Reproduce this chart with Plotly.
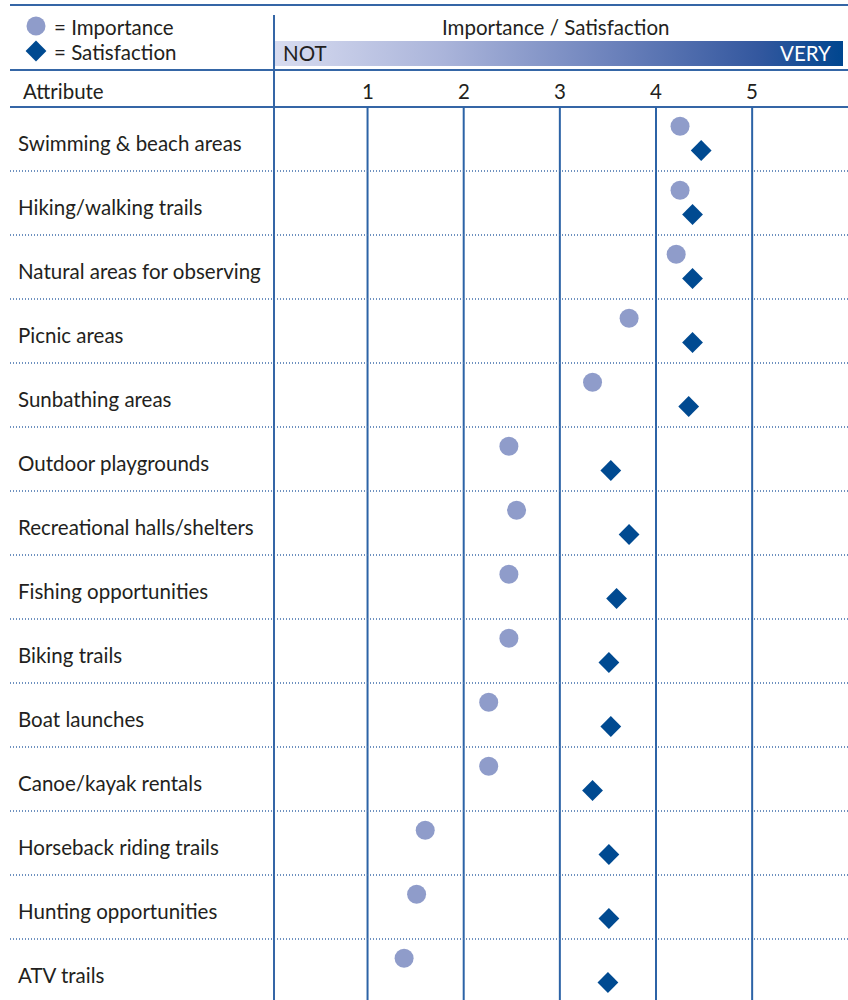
import plotly.graph_objects as go

attributes = [
    "Swimming & beach areas",
    "Hiking/walking trails",
    "Natural areas for observing",
    "Picnic areas",
    "Sunbathing areas",
    "Outdoor playgrounds",
    "Recreational halls/shelters",
    "Fishing opportunities",
    "Biking trails",
    "Boat launches",
    "Canoe/kayak rentals",
    "Horseback riding trails",
    "Hunting opportunities",
    "ATV trails",
]
importance = [4.25, 4.25, 4.21, 3.72, 3.34, 2.47, 2.55, 2.47, 2.47, 2.26, 2.26, 1.60, 1.51, 1.38]
satisfaction = [4.47, 4.38, 4.38, 4.38, 4.34, 3.53, 3.72, 3.59, 3.51, 3.53, 3.34, 3.51, 3.51, 3.50]
tick_values = [1, 2, 3, 4, 5]
tick_labels = ["1", "2", "3", "4", "5"]

W, H = 848, 1000
PX2 = 463.7          # pixel of value 2
STEP = 96.15         # pixels per unit
ROW0 = 139.0         # pixel centre of first row
ROWH = 64.0

def xd(px):
    return 2 + (px - PX2) / STEP

def yd(px):
    return (px - ROW0) / ROWH

FONT = "Lato"
FS = 20.5
TXT = "#231f20"
LINE = "#3566a6"
CIRC = "#8f9cca"
DIAM = "#004a91"

rows = list(range(len(attributes)))

fig = go.Figure()

# gradient bar
fig.add_trace(go.Scatter(
    x=[xd(273), xd(843), xd(843), xd(273), xd(273)],
    y=[yd(41), yd(41), yd(66), yd(66), yd(41)],
    mode="lines", fill="toself", line=dict(width=0),
    fillgradient=dict(type="horizontal",
                      colorscale=[[0, "#d8dcf0"], [0.3, "#aab4da"], [0.6, "#6b81bb"], [0.85, "#34589f"], [1, "#00468f"]]),
    hoverinfo="skip", showlegend=False))

fig.add_trace(go.Scatter(
    x=importance, y=[r - 0.2 for r in rows], mode="markers",
    marker=dict(symbol="circle", size=19, color=CIRC, line=dict(width=0)),
    showlegend=False))
fig.add_trace(go.Scatter(
    x=satisfaction, y=[r + 0.18 for r in rows], mode="markers",
    marker=dict(symbol="diamond", size=16, color=DIAM, line=dict(width=0)),
    showlegend=False))

# legend markers
fig.add_trace(go.Scatter(x=[xd(36)], y=[yd(26)], mode="markers",
                         marker=dict(symbol="circle", size=19, color=CIRC, line=dict(width=0)),
                         showlegend=False, hoverinfo="skip"))
fig.add_trace(go.Scatter(x=[xd(36)], y=[yd(51)], mode="markers",
                         marker=dict(symbol="diamond", size=16, color=DIAM, line=dict(width=0)),
                         showlegend=False, hoverinfo="skip"))

shapes = []
def hline(py, x0=10, x1=848, width=2, dash="solid", color=LINE):
    shapes.append(dict(type="line", xref="paper", yref="paper",
                       x0=x0 / W, x1=x1 / W, y0=1 - py / H, y1=1 - py / H,
                       line=dict(color=color, width=width, dash=dash)))

hline(5)
hline(70)
hline(107)
# separator
shapes.append(dict(type="line", xref="paper", yref="paper", x0=274 / W, x1=274 / W,
                   y0=1 - 15 / H, y1=0, line=dict(color=LINE, width=2)))
# grid verticals
for v in tick_values:
    shapes.append(dict(type="line", xref="x", yref="paper", x0=v, x1=v,
                       y0=1 - 107 / H, y1=0, line=dict(color="#2c63a6", width=2)))
# dotted separators
for r in rows[:-1]:
    shapes.append(dict(type="line", xref="paper", yref="y", x0=10 / W, x1=1,
                       y0=r + 0.5, y1=r + 0.5,
                       line=dict(color="#3f6daa", width=1.5, dash="1px,2px")))

ann = []
def text(s, x, y, xanchor="left", color=TXT, size=FS, xref="x", yref="y"):
    ann.append(dict(text=s, x=x, y=y, xref=xref, yref=yref, xanchor=xanchor,
                    yanchor="middle", showarrow=False,
                    font=dict(family=FONT, size=size, color=color)))

for r, name in zip(rows, attributes):
    text(name, xd(16), r + 0.06)
for v, lab in zip(tick_values, tick_labels):
    text(lab, v, yd(91), xanchor="center")
text("Attribute", xd(21), yd(91))
text("= Importance", xd(52), yd(27))
text("= Satisfaction", xd(52), yd(52))
text("Importance / Satisfaction", xd(556), yd(27), xanchor="center")
text("NOT", xd(281), yd(53))
text("VERY", xd(833), yd(53), xanchor="right", color="white")

fig.update_layout(
    width=W, height=H, margin=dict(l=0, r=0, t=0, b=0),
    paper_bgcolor="white", plot_bgcolor="white",
    xaxis=dict(range=[xd(0), xd(W)], visible=False, fixedrange=True),
    yaxis=dict(range=[yd(H), yd(0)], visible=False, fixedrange=True),
    shapes=shapes, annotations=ann, showlegend=False,
)

fig.write_html("out.html")
